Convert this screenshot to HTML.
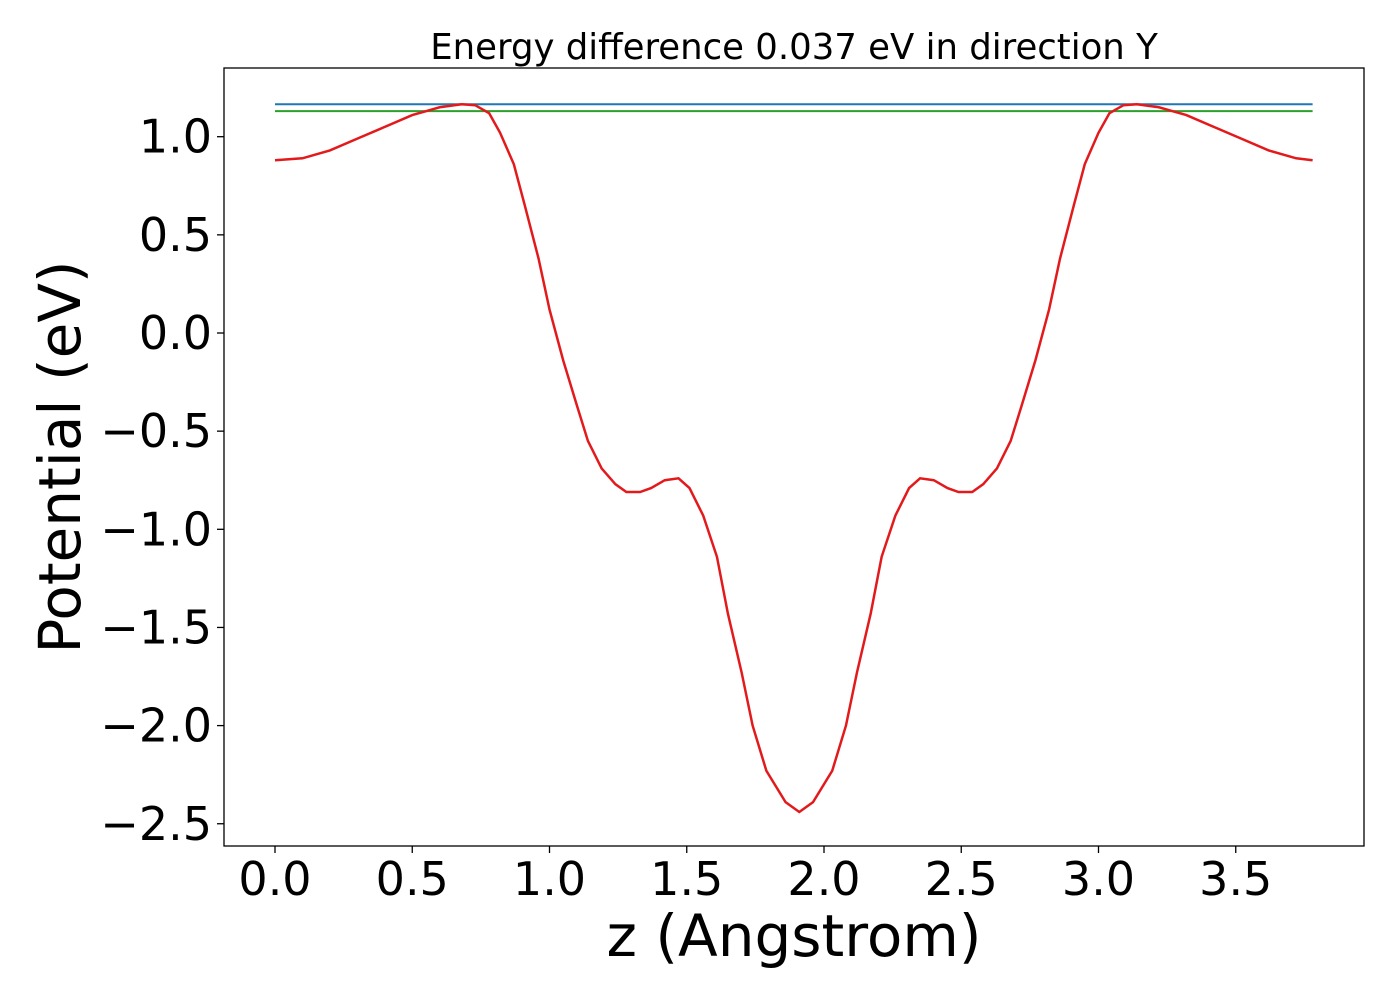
<!DOCTYPE html>
<html><head><meta charset="utf-8"><style>
body{margin:0;background:#fff;}
svg text{font-family:"DejaVu Sans","Liberation Sans",sans-serif;fill:#000;}
</style></head><body>
<svg id="chart" width="1400" height="1000" xmlns="http://www.w3.org/2000/svg">
<text x="794" y="59" font-size="35.5" text-anchor="middle">Energy difference 0.037 eV in direction Y</text>
<g id="plot"></g>
<rect x="224" y="68" width="1140" height="778" fill="none" stroke="#000" stroke-width="1.3"/>
<text x="794" y="956" font-size="58" text-anchor="middle">z (Angstrom)</text>
<text transform="translate(80,457) rotate(-90)" font-size="58" text-anchor="middle">Potential (eV)</text>
</svg>
<script>
const zValues=[0.0,0.1,0.2,0.3,0.4,0.5,0.55,0.6,0.68,0.73,0.78,0.82,0.87,0.91,0.96,1.0,1.05,1.1,1.14,1.19,1.24,1.28,1.33,1.37,1.42,1.47,1.51,1.56,1.61,1.65,1.70,1.74,1.79,1.86,1.91,1.96,2.03,2.08,2.12,2.17,2.21,2.26,2.31,2.35,2.40,2.45,2.49,2.54,2.58,2.63,2.68,2.72,2.77,2.82,2.86,2.91,2.95,3.0,3.04,3.09,3.14,3.22,3.27,3.32,3.42,3.52,3.62,3.72,3.78];
const potential=[0.88,0.89,0.93,0.99,1.05,1.11,1.13,1.15,1.165,1.16,1.12,1.02,0.86,0.65,0.38,0.12,-0.14,-0.37,-0.55,-0.69,-0.77,-0.81,-0.81,-0.79,-0.75,-0.74,-0.79,-0.93,-1.14,-1.43,-1.73,-2.00,-2.23,-2.39,-2.44,-2.39,-2.23,-2.00,-1.73,-1.43,-1.14,-0.93,-0.79,-0.74,-0.75,-0.79,-0.81,-0.81,-0.77,-0.69,-0.55,-0.37,-0.14,0.12,0.38,0.65,0.86,1.02,1.12,1.16,1.165,1.15,1.13,1.11,1.05,0.99,0.93,0.89,0.88];
const barrierLevels=[1.165,1.13];
const barrierColors=['#1f77b4','#2ca02c'];
const xTicks=[0,0.5,1,1.5,2,2.5,3,3.5];
const xTickLabels=['0.0','0.5','1.0','1.5','2.0','2.5','3.0','3.5'];
const yTicks=[1,0.5,0,-0.5,-1,-1.5,-2,-2.5];
const yTickLabels=['1.0','0.5','0.0','\u22120.5','\u22121.0','\u22121.5','\u22122.0','\u22122.5'];
const NS='http://www.w3.org/2000/svg';
const X=v=>275+v*274.5, Y=v=>333-v*196.3;
const g=document.getElementById('plot');
function mk(t,a){const e=document.createElementNS(NS,t);for(const k in a)e.setAttribute(k,a[k]);g.appendChild(e);return e;}
xTicks.forEach((v,i)=>{
 const l=mk('line',{x1:X(v),x2:X(v),y1:846,y2:853,stroke:'#000','stroke-width':1.3});
 
 
 const t=mk('text',{x:X(v),y:895,'font-size':46,'text-anchor':'middle'});t.textContent=xTickLabels[i];
 
 
});
yTicks.forEach((v,i)=>{
 const l=mk('line',{x1:217,x2:224,y1:Y(v),y2:Y(v),stroke:'#000','stroke-width':1.3});
 
 
 const t=mk('text',{x:212,y:Y(v)+16,'font-size':46,'text-anchor':'end'});t.textContent=yTickLabels[i];
 
 
});
barrierLevels.forEach((v,i)=>{
 const l=mk('line',{x1:X(zValues[0]),x2:X(zValues[zValues.length-1]),y1:Y(v),y2:Y(v),stroke:barrierColors[i],'stroke-width':2});
 
 
});
const p=mk('polyline',{points:zValues.map((z,i)=>X(z)+','+Y(potential[i])).join(' '),fill:'none',stroke:'#e31a1c','stroke-width':2.5});


</script>
</body></html>
